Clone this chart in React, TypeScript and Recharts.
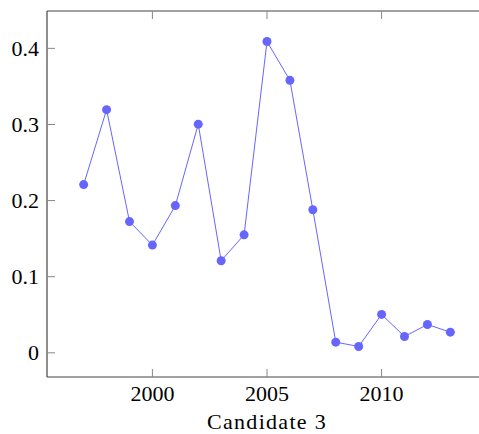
import React from 'react';
import { LineChart, Line, XAxis, YAxis } from 'recharts';

const years = [1997, 1998, 1999, 2000, 2001, 2002, 2003, 2004, 2005, 2006, 2007, 2008, 2009, 2010, 2011, 2012, 2013];
const values = [0.221, 0.3195, 0.1724, 0.1415, 0.1934, 0.3004, 0.121, 0.155, 0.409, 0.358, 0.188, 0.014, 0.0083, 0.0504, 0.0214, 0.0372, 0.0271];
const xTicks = [2000, 2005, 2010];
const yTicks = [0, 0.1, 0.2, 0.3, 0.4];
const xLabel = 'Candidate 3';

const data = years.map((y, i) => ({ year: y, value: values[i] }));

const FONT = 'Liberation Serif, serif';
const TICK_COLOR = '#888';
const AXIS_COLOR = '#444';
const SERIES = '#6666ff';
const TL = 8;

const BottomTick = (props: any) => {
  const { x, y, payload } = props;
  const base = y - 16;
  return (
    <g>
      <line x1={x} x2={x} y1={base} y2={base - TL} stroke={TICK_COLOR} strokeWidth={1} />
      <text x={x} y={y} textAnchor="middle" dominantBaseline="central" style={{ fontFamily: FONT, fontSize: 22 }} fill="#000">
        {payload.value}
      </text>
    </g>
  );
};

const TopTick = (props: any) => {
  const { x, y } = props;
  return <line x1={x} x2={x} y1={y} y2={y + TL} stroke={TICK_COLOR} strokeWidth={1} />;
};

const LeftTick = (props: any) => {
  const { x, y, payload } = props;
  const base = x + 8;
  return (
    <g>
      <line x1={base} x2={base + TL} y1={y} y2={y} stroke={TICK_COLOR} strokeWidth={1} />
      <text x={x} y={y} textAnchor="end" dominantBaseline="central" style={{ fontFamily: FONT, fontSize: 22 }} fill="#000">
        {payload.value === 0 ? '0' : String(payload.value)}
      </text>
    </g>
  );
};

const RightTick = (props: any) => {
  const { x, y } = props;
  return <line x1={x} x2={x - TL} y1={y} y2={y} stroke={TICK_COLOR} strokeWidth={1} />;
};

const AxisTitle = (props: any) => {
  const { viewBox } = props;
  const cx = viewBox.x + viewBox.width / 2;
  const by = viewBox.y + viewBox.height - 5;
  return (
    <text x={cx} y={by} textAnchor="middle" style={{ fontFamily: FONT, fontSize: 22, letterSpacing: '1.3px' }} fill="#000">
      {xLabel}
    </text>
  );
};

const xDomain = [1995.4, 2014.6];
const yDomain = [-0.0318, 0.4491];

export default function App() {
  return (
    <div style={{ position: 'absolute', left: 0, top: 0, width: 479, height: 434, overflow: 'hidden', background: '#fff', fontFamily: FONT }}>
      <LineChart width={500} height={434} data={data} margin={{ top: 10, right: 12, left: 0, bottom: 0 }}>
        <XAxis
          xAxisId="b"
          dataKey="year"
          type="number"
          domain={xDomain}
          ticks={xTicks}
          allowDataOverflow
          orientation="bottom"
          height={57}
          tickSize={0}
          tickMargin={16}
          tickLine={false}
          axisLine={{ stroke: AXIS_COLOR, strokeWidth: 1.2 }}
          tick={<BottomTick />}
          interval={0}
          label={<AxisTitle />}
        />
        <XAxis
          xAxisId="t"
          dataKey="year"
          type="number"
          domain={xDomain}
          ticks={xTicks}
          allowDataOverflow
          orientation="top"
          height={1}
          tickSize={0}
          tickMargin={0}
          tickLine={false}
          axisLine={{ stroke: AXIS_COLOR, strokeWidth: 1.2 }}
          tick={<TopTick />}
          interval={0}
        />
        <YAxis
          yAxisId="l"
          type="number"
          domain={yDomain}
          ticks={yTicks}
          allowDataOverflow
          orientation="left"
          width={47}
          tickSize={0}
          tickMargin={8}
          tickLine={false}
          axisLine={{ stroke: AXIS_COLOR, strokeWidth: 1.2 }}
          tick={<LeftTick />}
          interval={0}
        />
        <YAxis
          yAxisId="r"
          type="number"
          domain={yDomain}
          ticks={yTicks}
          allowDataOverflow
          orientation="right"
          width={1}
          tickSize={0}
          tickMargin={0}
          tickLine={false}
          axisLine={{ stroke: AXIS_COLOR, strokeWidth: 1.2 }}
          tick={<RightTick />}
          interval={0}
        />
        <Line
          xAxisId="b"
          yAxisId="l"
          type="linear"
          dataKey="value"
          stroke={SERIES}
          strokeWidth={1}
          dot={{ r: 4.5, fill: SERIES, stroke: SERIES, strokeWidth: 0 }}
          activeDot={false}
          isAnimationActive={false}
        />
      </LineChart>
    </div>
  );
}
